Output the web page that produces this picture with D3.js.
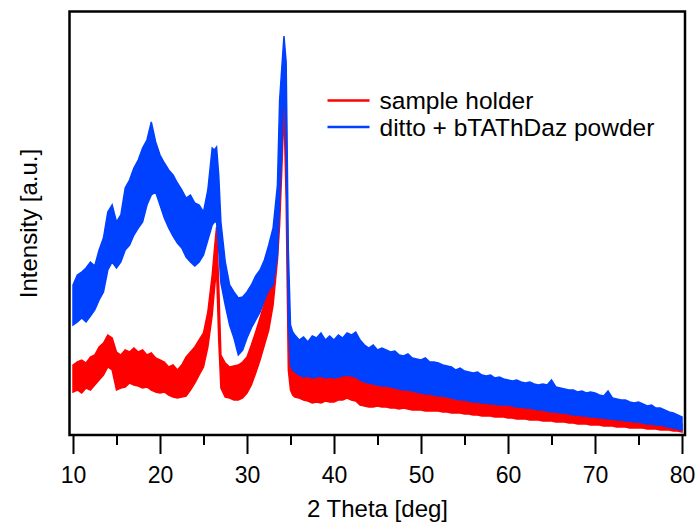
<!DOCTYPE html>
<html>
<head>
<meta charset="utf-8">
<script src="https://cdn.jsdelivr.net/npm/d3@7"></script>
<style>
  body { margin: 0; background: #fff; }
  text { font-family: 'Liberation Sans', Arial, sans-serif; fill: #000; }
</style>
</head>
<body>
<div id="chart"></div>
<script>
// 2 theta sampling (deg), finer around the two sharp peaks
const theta = [
  10, 10.5, 11, 11.5, 12, 12.5, 13, 13.5, 14, 14.5, 15, 15.5, 16, 16.5, 17, 17.5,
  18, 18.5, 19, 19.5, 20, 20.5, 21, 21.5, 22, 22.5, 23, 23.5, 24, 24.5, 25, 25.5,
  26, 26.25, 26.5, 26.75, 27, 27.5, 28, 28.5, 29, 29.5, 30, 30.5, 31, 31.5, 32, 32.5,
  33, 33.5, 33.75, 34, 34.25, 34.5, 34.75, 35, 35.25, 35.5, 36, 36.5, 37, 37.5, 38, 38.5,
  39, 39.5, 40, 40.5, 41, 41.5, 42, 42.5, 43, 43.5, 44, 44.5, 45, 45.5, 46, 46.5,
  47, 47.5, 48, 48.5, 49, 49.5, 50, 50.5, 51, 51.5, 52, 52.5, 53, 53.5, 54, 54.5,
  55, 55.5, 56, 56.5, 57, 57.5, 58, 58.5, 59, 59.5, 60, 60.5, 61, 61.5, 62, 62.5,
  63, 63.5, 64, 64.5, 65, 65.5, 66, 66.5, 67, 67.5, 68, 68.5, 69, 69.5, 70, 70.5,
  71, 71.5, 72, 72.5, 73, 73.5, 74, 74.5, 75, 75.5, 76, 76.5, 77, 77.5, 78, 78.5,
  79, 79.5, 80
]

// sample holder: lower / upper edge of the noisy trace (a.u.)
const holderLow = [
  43, 45, 42, 47, 45, 50, 55, 60, 68, 65, 45, 47, 48, 52, 50, 49,
  47, 48, 45, 43, 42, 43, 40, 38, 37, 38, 39, 45, 52, 60, 68, 88,
  120, 145, 167, 95, 47, 38, 37, 35, 35, 37, 42, 50, 62, 75, 90, 105,
  130, 175, 210, 265, 325, 235, 65, 45, 40, 38, 37, 35, 34, 32, 33, 32,
  34, 33, 33, 35, 35, 37, 35, 34, 30, 29, 28, 28, 29, 28, 28, 27,
  27, 26, 27, 26, 25, 25, 25, 24, 24, 24, 24, 23, 23, 22, 22, 22,
  21, 21, 20, 20, 19, 19, 19, 18, 18, 18, 17, 17, 16, 16, 16, 15,
  15, 15, 14, 14, 14, 13, 13, 13, 12, 12, 11, 11, 11, 10, 10, 10,
  9, 9, 9, 8, 8, 8, 7, 7, 7, 7, 6, 6, 6, 5, 5, 5,
  4, 4, 3
]
const holderHigh = [
  70, 73, 75, 72, 78, 80, 88, 92, 100, 97, 83, 80, 85, 83, 87, 83,
  85, 80, 82, 77, 75, 73, 68, 70, 65, 70, 78, 83, 88, 95, 102, 123,
  160, 185, 208, 150, 80, 72, 68, 69, 70, 73, 78, 90, 103, 117, 132, 150,
  173, 220, 265, 315, 375, 335, 105, 70, 65, 63, 60, 62, 58, 60, 58, 61,
  59, 62, 63, 65, 67, 68, 65, 63, 60, 57, 55, 53, 52, 50, 48, 50,
  48, 47, 47, 46, 45, 44, 43, 42, 41, 40, 39, 38, 37, 36, 35, 35,
  34, 34, 33, 33, 32, 32, 31, 31, 30, 30, 29, 29, 28, 28, 27, 27,
  26, 26, 25, 25, 24, 24, 23, 23, 22, 23, 22, 25, 21, 21, 20, 20,
  19, 19, 18, 18, 17, 17, 16, 16, 15, 15, 14, 14, 14, 13, 15, 13,
  12, 12, 11
]

// ditto + bTAThDaz powder: lower / upper edge (a.u.)
const powderLow = [
  110, 113, 117, 113, 119, 125, 135, 143, 165, 173, 167, 173, 185, 190, 200, 207,
  213, 230, 240, 243, 230, 217, 207, 199, 192, 187, 178, 173, 169, 173, 180, 195,
  210, 213, 213, 185, 152, 130, 110, 97, 80, 85, 97, 107, 115, 123, 135, 145,
  150, 180, 235, 285, 355, 285, 115, 70, 65, 63, 60, 58, 59, 57, 58, 59,
  57, 58, 57, 58, 59, 60, 59, 58, 55, 53, 52, 51, 50, 49, 49, 48,
  47, 46, 45, 45, 44, 43, 42, 41, 41, 40, 39, 39, 38, 37, 36, 35,
  35, 34, 33, 33, 32, 32, 31, 31, 30, 30, 30, 29, 28, 28, 27, 27,
  26, 25, 25, 24, 23, 23, 22, 22, 21, 20, 20, 19, 19, 18, 18, 17,
  17, 16, 16, 15, 15, 14, 14, 13, 13, 12, 11, 11, 10, 10, 9, 8,
  7, 6, 5
]
const powderHigh = [
  150, 160, 163, 167, 173, 169, 185, 197, 223, 230, 213, 220, 247, 255, 267, 275,
  287, 295, 313, 293, 280, 272, 265, 260, 252, 245, 237, 240, 232, 230, 223, 245,
  287, 285, 288, 260, 213, 173, 150, 143, 137, 138, 143, 150, 159, 165, 175, 190,
  207, 250, 335, 367, 399, 373, 185, 110, 103, 100, 95, 98, 93, 99, 97, 102,
  95, 99, 95, 100, 97, 102, 100, 103, 95, 90, 87, 90, 85, 87, 85, 83,
  84, 80, 79, 81, 77, 76, 75, 77, 73, 73, 72, 70, 69, 68, 65, 67,
  64, 63, 62, 63, 60, 59, 60, 57, 58, 56, 55, 54, 55, 53, 52, 53,
  51, 50, 51, 50, 55, 48, 47, 46, 45, 45, 43, 44, 42, 43, 42, 40,
  39, 44, 37, 36, 35, 35, 33, 32, 33, 31, 29, 30, 27, 27, 25, 23,
  22, 20, 18
]

const seriesNames = ['sample holder', 'ditto + bTAThDaz powder']
const seriesColors = ['#ff0000', '#0040ff']
const majorTicks = [10, 20, 30, 40, 50, 60, 70, 80]
const minorTicks = [15, 25, 35, 45, 55, 65, 75]

const margin = { top: 11.5, left: 69.5, right: 14, bottom: 89 }
const width = 699 - margin.left - margin.right
const height = 524 - margin.top - margin.bottom

const svg = d3
  .select('#chart')
  .append('svg')
  .attr('width', 699)
  .attr('height', 524)
  .append('g')
  .attr('transform', 'translate(' + margin.left + ',' + margin.top + ')')

const xPositionScale = d3.scaleLinear().domain([10, 80]).range([3.5, 612.5])
const yPositionScale = d3.scaleLinear().domain([0, height]).range([height, 0])

svg
  .append('clipPath')
  .attr('id', 'plot-clip')
  .append('rect')
  .attr('width', width)
  .attr('height', height)

function band(low, high) {
  return theta.map((t, i) => ({ t: t, lo: low[i], hi: high[i] }))
}

const area = d3
  .area()
  .x(d => xPositionScale(d.t))
  .y0(d => yPositionScale(d.lo))
  .y1(d => yPositionScale(d.hi))

const series = [band(holderLow, holderHigh), band(powderLow, powderHigh)]

// draw holder first, powder on top
svg
  .append('g')
  .attr('clip-path', 'url(#plot-clip)')
  .selectAll('path')
  .data(series)
  .enter()
  .append('path')
  .attr('d', d => area(d))
  .attr('fill', (d, i) => seriesColors[i])
  .attr('stroke', (d, i) => seriesColors[i])
  .attr('stroke-width', 1.5)

// frame
svg
  .append('rect')
  .attr('width', width)
  .attr('height', height)
  .attr('fill', 'none')
  .attr('stroke', '#000')
  .attr('stroke-width', 2.5)

// axes
const xAxis = d3
  .axisBottom(xPositionScale)
  .tickValues(majorTicks)
  .tickSize(19)
  .tickPadding(13)
const xg = svg
  .append('g')
  .attr('class', 'axis x-axis')
  .attr('transform', 'translate(0,' + height + ')')
  .call(xAxis)
xg.select('.domain').remove()
xg.selectAll('.tick line').attr('stroke-width', 2)
xg.selectAll('.tick text')
  .style('font-size', '23px')
  .style('font-family', "'Liberation Sans', Arial, sans-serif")

const minorAxis = d3
  .axisBottom(xPositionScale)
  .tickValues(minorTicks)
  .tickSize(10)
  .tickFormat('')
const mg = svg
  .append('g')
  .attr('class', 'axis minor')
  .attr('transform', 'translate(0,' + height + ')')
  .call(minorAxis)
mg.select('.domain').remove()
mg.selectAll('.tick line').attr('stroke-width', 2)

// axis titles
svg
  .append('text')
  .attr('x', xPositionScale(45))
  .attr('y', height + 82)
  .attr('text-anchor', 'middle')
  .style('font-size', '24px')
  .text('2 Theta [deg]')

svg
  .append('text')
  .attr('transform', 'translate(' + (-33) + ',' + 212 + ') rotate(-90)')
  .attr('text-anchor', 'middle')
  .style('font-size', '24px')
  .text('Intensity [a.u.]')

// legend
const legend = svg
  .append('g')
  .attr('transform', 'translate(258,89)')

legend
  .selectAll('line')
  .data(seriesNames)
  .enter()
  .append('line')
  .attr('x1', 0)
  .attr('x2', 42)
  .attr('y1', (d, i) => i * 26.5)
  .attr('y2', (d, i) => i * 26.5)
  .attr('stroke', (d, i) => seriesColors[i])
  .attr('stroke-width', 2.5)

legend
  .selectAll('text')
  .data(seriesNames)
  .enter()
  .append('text')
  .attr('x', 52)
  .attr('y', (d, i) => i * 26.5 + 8.5)
  .style('font-size', '24.5px')
  .text(d => d)
</script>
</body>
</html>
